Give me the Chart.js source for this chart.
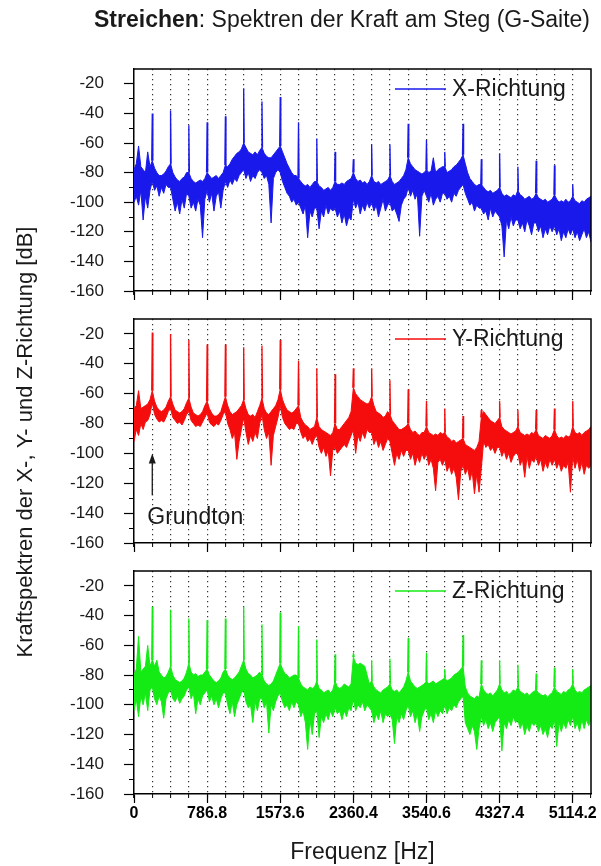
<!DOCTYPE html>
<html>
<head>
<meta charset="utf-8">
<title>Streichen: Spektren der Kraft am Steg (G-Saite)</title>
<script src="https://cdn.jsdelivr.net/npm/chart.js@4.4.1/dist/chart.umd.min.js"></script>
<style>
  html, body { margin: 0; padding: 0; background: #fff; }
  #page { position: relative; width: 601px; height: 866px; }
  #page canvas { position: absolute; left: 0; top: 0; }
</style>
</head>
<body>
<div id="page">
  <canvas id="panelX" width="601" height="866"></canvas>
  <canvas id="panelY" width="601" height="866"></canvas>
  <canvas id="panelZ" width="601" height="866"></canvas>
</div>
<script>
const f0 = 196.7;            // Grundton der G-Saite [Hz]
const binsPerHarmonic = 8;   // samples between two harmonics
const nHarmonics = 25;       // axis runs up to the 25th harmonic
const harmonicsPerLabel = 4; // one labelled tick every 4th harmonic
const tickLabels = ['0', '786.8', '1573.6', '2360.4', '3540.6', '4327.4', '5114.2'];

// upper / lower edge of the noise band [dB], one row per harmonic spacing
const topX = [
  -78, -74, -62, -76, -78, -80, -66, -76,
  -72, -77, -80, -82, -82, -81, -79, -76,
  -74, -80, -83, -85, -86, -84, -83, -80,
  -80, -84, -86, -87, -86, -85, -86, -84,
  -80, -82, -84, -83, -82, -84, -82, -80,
  -75, -76, -74, -71, -69, -67, -66, -64,
  -60, -63, -66, -67, -68, -66, -68, -65,
  -63, -67, -69, -70, -70, -68, -66, -64,
  -62, -66, -70, -74, -77, -80, -82, -82,
  -84, -86, -88, -89, -88, -90, -88, -86,
  -86, -89, -90, -92, -91, -90, -92, -90,
  -86, -88, -88, -87, -88, -86, -85, -84,
  -80, -84, -86, -85, -87, -86, -88, -86,
  -82, -86, -87, -86, -88, -87, -86, -85,
  -82, -86, -88, -87, -86, -84, -82, -78,
  -70, -74, -76, -78, -79, -80, -81, -80,
  -78, -80, -79, -70, -80, -78, -77, -76,
  -76, -80, -79, -78, -76, -75, -73, -71,
  -68, -74, -80, -84, -86, -88, -89, -88,
  -88, -90, -92, -93, -92, -94, -93, -92,
  -90, -94, -96, -95, -96, -97, -95, -96,
  -92, -95, -96, -98, -97, -96, -98, -97,
  -94, -97, -98, -99, -98, -100, -99, -98,
  -95, -98, -100, -99, -100, -98, -100, -99,
  -96, -99, -100, -101, -99, -100, -98, -97,
  -96
];
const bottomX = [
  -100, -96, -102, -92, -112, -96, -104, -92,
  -86, -92, -89, -96, -90, -94, -88, -90,
  -90, -98, -106, -100, -108, -98, -104, -94,
  -96, -104, -100, -106, -98, -102, -124, -98,
  -92, -100, -94, -106, -96, -93, -104, -92,
  -86, -90, -85, -88, -84, -86, -82, -80,
  -78, -84, -80, -86, -82, -84, -80, -78,
  -80, -84, -82, -88, -114, -84, -80, -78,
  -80, -86, -90, -94, -96, -100, -98, -102,
  -100, -104, -108, -102, -124, -106, -110, -104,
  -104, -118, -106, -110, -102, -108, -104, -106,
  -104, -110, -106, -114, -108, -116, -110, -112,
  -98, -104, -100, -108, -102, -106, -100, -104,
  -100, -106, -102, -110, -104, -98, -106, -102,
  -100, -106, -104, -108, -113, -102, -98, -96,
  -90, -96, -92, -98, -94, -123, -96, -92,
  -96, -100, -94, -102, -98, -96, -100, -94,
  -94, -98, -96, -100, -94, -96, -92, -90,
  -88, -94, -98, -102, -100, -106, -102, -104,
  -104, -108, -106, -112, -104, -110, -106, -108,
  -110, -116, -137, -112, -118, -110, -116, -112,
  -112, -118, -114, -120, -112, -116, -122, -114,
  -114, -120, -116, -124, -118, -122, -116, -120,
  -116, -122, -118, -126, -120, -124, -118, -122,
  -118, -124, -120, -126, -122, -118, -124, -120,
  -127
];
const peaksX = [-40, -38, -48, -46, -42, -23, -32, -29, -46, -57, -66, -71,
                -61, -61, -47, -58, -66, -47, -71, -67, -76, -72, -75, -88];

const topY = [
  -70, -68, -58, -70, -69, -68, -67, -64,
  -58, -65, -69, -71, -72, -71, -69, -65,
  -62, -67, -71, -72, -73, -72, -70, -66,
  -63, -69, -73, -74, -75, -74, -72, -68,
  -65, -70, -73, -75, -75, -74, -72, -67,
  -62, -68, -72, -74, -73, -72, -70, -68,
  -64, -70, -74, -75, -74, -76, -72, -68,
  -63, -70, -73, -74, -72, -70, -68, -64,
  -57, -64, -68, -71, -72, -73, -72, -70,
  -68, -76, -79, -81, -82, -84, -83, -82,
  -76, -82, -84, -85, -86, -87, -88, -86,
  -80, -84, -84, -82, -80, -78, -76, -72,
  -56, -60, -62, -64, -65, -66, -67, -66,
  -62, -68, -72, -73, -74, -76, -75, -72,
  -74, -78, -80, -82, -84, -84, -83, -82,
  -80, -84, -86, -85, -87, -88, -86, -86,
  -82, -86, -87, -88, -87, -88, -86, -87,
  -86, -89, -90, -92, -91, -93, -92, -91,
  -90, -94, -95, -96, -97, -98, -96, -92,
  -76, -72, -74, -76, -78, -79, -80, -78,
  -76, -82, -84, -85, -86, -87, -86, -85,
  -82, -86, -87, -88, -87, -88, -86, -87,
  -84, -88, -89, -90, -88, -89, -90, -88,
  -84, -88, -90, -89, -90, -88, -89, -88,
  -82, -86, -87, -86, -88, -86, -85, -84,
  -82
];
const bottomY = [
  -92, -84, -88, -80, -84, -79, -78, -74,
  -66, -74, -77, -79, -78, -79, -76, -72,
  -70, -76, -78, -80, -79, -81, -78, -74,
  -72, -78, -80, -82, -81, -82, -79, -76,
  -73, -79, -81, -82, -80, -81, -78, -74,
  -72, -80, -84, -90, -86, -104, -92, -84,
  -76, -86, -94, -88, -92, -86, -90, -80,
  -74, -84, -90, -86, -108, -88, -82, -76,
  -68, -76, -80, -82, -84, -83, -84, -80,
  -80, -86, -90, -88, -92, -90, -94, -90,
  -88, -96, -100, -96, -102, -98, -115, -98,
  -96, -100, -98, -96, -94, -96, -92, -88,
  -84, -100, -88, -92, -86, -90, -84, -86,
  -86, -94, -90, -96, -92, -98, -94, -90,
  -92, -100, -108, -100, -104, -98, -102, -98,
  -98, -104, -100, -108, -102, -106, -100, -104,
  -100, -108, -104, -110, -125, -106, -104, -108,
  -104, -112, -108, -114, -110, -116, -131, -112,
  -108, -114, -110, -118, -112, -127, -114, -126,
  -110, -92, -96, -94, -98, -96, -100, -96,
  -96, -102, -98, -104, -100, -106, -102, -100,
  -100, -108, -104, -116, -102, -110, -104, -106,
  -102, -108, -104, -112, -106, -110, -104, -108,
  -104, -110, -106, -112, -108, -110, -106, -126,
  -102, -110, -104, -112, -106, -114, -108, -110,
  -108
];
const peaksY = [-19, -20, -24, -27, -27, -29, -28, -24, -38, -43, -47, -43,
                -43, -51, -57, -65, -70, -75, -71, -65, -71, -71, -70, -65];

const topZ = [
  -80, -76, -54, -78, -76, -74, -60, -74,
  -70, -74, -70, -78, -80, -82, -81, -78,
  -74, -80, -83, -84, -85, -84, -82, -78,
  -72, -78, -80, -79, -81, -80, -80, -78,
  -76, -80, -82, -84, -85, -84, -82, -78,
  -76, -80, -82, -83, -82, -80, -78, -74,
  -70, -76, -79, -80, -82, -81, -80, -78,
  -80, -84, -86, -87, -86, -84, -80, -76,
  -72, -76, -79, -80, -82, -81, -80, -80,
  -82, -86, -88, -89, -90, -88, -89, -88,
  -84, -89, -90, -92, -91, -90, -92, -90,
  -84, -88, -89, -88, -86, -87, -88, -86,
  -68, -72, -73, -72, -73, -74, -80, -86,
  -84, -88, -90, -91, -92, -90, -89, -88,
  -86, -90, -91, -90, -92, -90, -88, -84,
  -78, -84, -86, -88, -89, -88, -87, -86,
  -84, -86, -85, -84, -86, -85, -84, -83,
  -82, -84, -83, -82, -80, -79, -78, -76,
  -74, -88, -92, -94, -95, -96, -94, -95,
  -86, -90, -92, -93, -92, -94, -92, -90,
  -86, -90, -92, -91, -93, -92, -90, -91,
  -88, -91, -92, -93, -92, -94, -92, -91,
  -90, -92, -93, -94, -93, -95, -93, -92,
  -88, -91, -92, -93, -91, -92, -90, -89,
  -86, -90, -92, -91, -92, -90, -89, -88,
  -87
];
const bottomZ = [
  -104, -96, -108, -94, -100, -92, -104, -90,
  -88, -96, -100, -94, -98, -109, -96, -92,
  -90, -96, -98, -94, -99, -96, -94, -90,
  -88, -96, -92, -106, -96, -100, -94, -92,
  -90, -98, -94, -100, -96, -102, -96, -92,
  -92, -100, -106, -98, -108, -100, -96, -92,
  -90, -98, -102, -100, -112, -98, -104, -96,
  -96, -102, -98, -119, -100, -104, -98, -94,
  -92, -98, -102, -100, -104, -98, -102, -98,
  -100, -108, -104, -112, -130, -110, -120, -106,
  -104, -122, -108, -112, -106, -110, -104, -108,
  -102, -106, -104, -110, -104, -108, -102, -104,
  -96, -104, -100, -102, -98, -104, -100, -102,
  -104, -112, -106, -110, -104, -112, -106, -108,
  -106, -110, -126, -108, -112, -106, -110, -104,
  -100, -108, -104, -112, -106, -118, -108, -104,
  -102, -110, -106, -112, -104, -108, -104, -106,
  -100, -106, -102, -104, -100, -102, -98, -96,
  -94, -112, -116, -120, -114, -118, -130, -116,
  -108, -114, -110, -116, -112, -118, -112, -110,
  -108, -131, -112, -116, -110, -114, -108, -112,
  -110, -116, -112, -120, -114, -118, -112, -114,
  -112, -118, -114, -120, -116, -122, -114, -116,
  -110, -128, -112, -118, -112, -116, -110, -114,
  -108, -116, -112, -118, -110, -116, -110, -114,
  -110
];
const peaksZ = [-34, -36, -42, -43, -42, -34, -46, -38, -47, -56, -66, -66,
                -70, -69, -55, -65, -76, -53, -70, -70, -73, -79, -75, -76];

// arrow + text marking the fundamental in the Y panel
const grundton = {text: 'Grundton', freq: f0, arrowFrom: -128, arrowTo: -100, textAt: -143};

const family = "'Liberation Sans', Arial, Helvetica, sans-serif";
const fMax = nHarmonics * f0;

function bandLine(values) {
  return values.map((v, i) => ({x: i * f0 / binsPerHarmonic, y: v}));
}

// each harmonic peak as a thin spike standing on the band
function spikeLine(peaks, top) {
  const pts = [];
  peaks.forEach((p, k) => {
    const f = (k + 1) * f0;
    const base = top[(k + 1) * binsPerHarmonic];
    pts.push({x: f - 6, y: base}, {x: f, y: p}, {x: f + 6, y: base}, {x: f + 6, y: null});
  });
  return pts;
}

// keep the plot box fixed, labels may hang over the edges
function noOverhang(s) {
  s.paddingLeft = 0;
  s.paddingRight = 0;
  s.paddingTop = 0;
  s.paddingBottom = 0;
}

const frame = {
  id: 'frame',
  afterDatasetsDraw(chart) {
    const {ctx, chartArea: a} = chart;
    ctx.save();
    ctx.strokeStyle = '#000';
    ctx.lineWidth = 1.5;
    ctx.beginPath();
    ctx.moveTo(a.left, a.top);
    ctx.lineTo(a.right, a.top);
    ctx.lineTo(a.right, a.bottom);
    ctx.stroke();
    ctx.restore();
  }
};

const legendLine = {
  id: 'legendLine',
  afterDatasetsDraw(chart) {
    const {ctx, chartArea: a} = chart;
    const ds = chart.data.datasets[0];
    const y = a.top + 20;
    const tx = a.right - 139;
    ctx.save();
    ctx.strokeStyle = ds.borderColor;
    ctx.lineWidth = 1.5;
    ctx.beginPath();
    ctx.moveTo(tx - 57, y);
    ctx.lineTo(tx - 6, y);
    ctx.stroke();
    ctx.fillStyle = '#1a1a1a';
    ctx.font = '23px ' + family;
    ctx.textAlign = 'left';
    ctx.textBaseline = 'middle';
    ctx.fillText(ds.label, tx, y + 1);
    ctx.restore();
  }
};

const grundtonMark = {
  id: 'grundtonMark',
  afterDatasetsDraw(chart) {
    const {ctx, scales} = chart;
    const x = scales.x.getPixelForValue(grundton.freq);
    const yTip = scales.y.getPixelForValue(grundton.arrowTo);
    const yTail = scales.y.getPixelForValue(grundton.arrowFrom);
    ctx.save();
    ctx.strokeStyle = '#1a1a1a';
    ctx.fillStyle = '#1a1a1a';
    ctx.lineWidth = 1.3;
    ctx.beginPath();
    ctx.moveTo(x, yTail);
    ctx.lineTo(x, yTip + 8);
    ctx.stroke();
    ctx.beginPath();
    ctx.moveTo(x, yTip);
    ctx.lineTo(x - 3.5, yTip + 10);
    ctx.lineTo(x + 3.5, yTip + 10);
    ctx.closePath();
    ctx.fill();
    ctx.font = '23px ' + family;
    ctx.textAlign = 'left';
    ctx.textBaseline = 'middle';
    ctx.fillText(grundton.text, x - 5, scales.y.getPixelForValue(grundton.textAt));
    ctx.restore();
  }
};

const pageText = {
  id: 'pageText',
  afterDraw(chart) {
    const ctx = chart.ctx;
    const bold = 'Streichen';
    const rest = ': Spektren der Kraft am Steg (G-Saite)';
    ctx.save();
    ctx.fillStyle = '#1a1a1a';
    ctx.textBaseline = 'middle';
    ctx.textAlign = 'left';
    ctx.font = 'bold 23px ' + family;
    const w1 = ctx.measureText(bold).width;
    ctx.font = '23px ' + family;
    const w2 = ctx.measureText(rest).width;
    const x = 342 - (w1 + w2) / 2;
    ctx.font = 'bold 23px ' + family;
    ctx.fillText(bold, x, 21);
    ctx.font = '23px ' + family;
    ctx.fillText(rest, x + w1, 21);

    ctx.translate(26, 442);
    ctx.rotate(-Math.PI / 2);
    ctx.textAlign = 'center';
    ctx.font = '22px ' + family;
    ctx.fillText('Kraftspektren der X-, Y- und Z-Richtung [dB]', 0, 0);
    ctx.restore();
  }
};

const panels = [
  {id: 'panelX', label: 'X-Richtung', color: 'rgb(25,25,235)', top: topX, bottom: bottomX, peaks: peaksX, area: [69, 291], extra: [pageText]},
  {id: 'panelY', label: 'Y-Richtung', color: 'rgb(245,12,12)', top: topY, bottom: bottomY, peaks: peaksY, area: [319, 543], extra: [grundtonMark]},
  {id: 'panelZ', label: 'Z-Richtung', color: 'rgb(20,235,20)', top: topZ, bottom: bottomZ, peaks: peaksZ, area: [571, 794], extra: [], last: true}
];

const hidden = 'rgba(0,0,0,0)';

panels.forEach(p => {
  const axisH = p.last ? 866 - p.area[1] : 0;
  new Chart(document.getElementById(p.id), {
    type: 'line',
    data: {
      datasets: [
        {label: p.label, data: bandLine(p.top), borderColor: p.color, borderWidth: 1, pointRadius: 0, fill: false},
        {label: '', data: bandLine(p.bottom), borderColor: p.color, backgroundColor: p.color, borderWidth: 1, pointRadius: 0, fill: '-1'},
        {label: '', data: spikeLine(p.peaks, p.top), borderColor: p.color, borderWidth: 1.3, pointRadius: 0, fill: false}
      ]
    },
    options: {
      responsive: false,
      animation: false,
      events: [],
      layout: {padding: {top: p.area[0], bottom: 866 - p.area[1] - axisH, left: 0, right: 10}},
      plugins: {legend: {display: false}, tooltip: {enabled: false}},
      scales: {
        x: {
          type: 'linear', axis: 'x', position: 'bottom', min: 0, max: fMax, bounds: 'data', weight: 1,
          // labelled ticks sit on every 4th harmonic
          afterBuildTicks: s => {
            s.ticks = tickLabels.map((_, i) => ({value: i * harmonicsPerLabel * f0}));
          },
          ticks: {
            autoSkip: false, maxRotation: 0, padding: 1,
            display: !!p.last, color: '#000', font: {family: family, size: 16, weight: 'bold'},
            callback: (v, i) => tickLabels[i] || ''
          },
          grid: {drawOnChartArea: false, tickLength: 9, tickWidth: 1.2, tickColor: '#000'},
          border: {color: '#000', width: 1.5},
          title: {display: !!p.last, text: 'Frequenz [Hz]', color: '#1a1a1a', font: {family: family, size: 23}, padding: 0},
          afterFit: s => { s.height = axisH; noOverhang(s); }
        },
        xMinor: {
          type: 'linear', axis: 'x', position: 'bottom', min: 0, max: fMax, bounds: 'data', weight: 0,
          ticks: {stepSize: f0, display: false},
          grid: {
            drawOnChartArea: true, tickLength: 4, tickWidth: 1, tickColor: '#000', lineWidth: 1.2,
            color: c => (c.index === 0 || (c.tick && c.tick.value > fMax - 1)) ? hidden : '#333'
          },
          border: {display: false, dash: [1.2, 3.8]},
          afterFit: s => { s.height = 0; noOverhang(s); }
        },
        y: {
          type: 'linear', axis: 'y', position: 'left', min: -160, max: -10, bounds: 'data', weight: 1,
          ticks: {
            stepSize: 20, includeBounds: false, autoSkip: false, padding: 20, color: '#1a1a1a',
            font: {family: family, size: 17},
            callback: v => v === -10 ? '' : String(v)
          },
          grid: {
            drawOnChartArea: false, tickLength: 10, tickWidth: 1.2,
            tickColor: c => (c.tick && c.tick.value === -10) ? hidden : '#000'
          },
          border: {color: '#000', width: 1.5},
          afterFit: s => { s.width = 134; noOverhang(s); }
        },
        yMinor: {
          type: 'linear', axis: 'y', position: 'left', min: -160, max: -10, bounds: 'data', weight: 0,
          ticks: {stepSize: 10, display: false},
          grid: {
            drawOnChartArea: false, tickLength: 5, tickWidth: 1,
            tickColor: c => (c.tick && c.tick.value === -10) ? hidden : '#000'
          },
          border: {display: false},
          afterFit: s => { s.width = 0; noOverhang(s); }
        }
      }
    },
    plugins: [frame, legendLine].concat(p.extra)
  });
});
</script>
</body>
</html>
